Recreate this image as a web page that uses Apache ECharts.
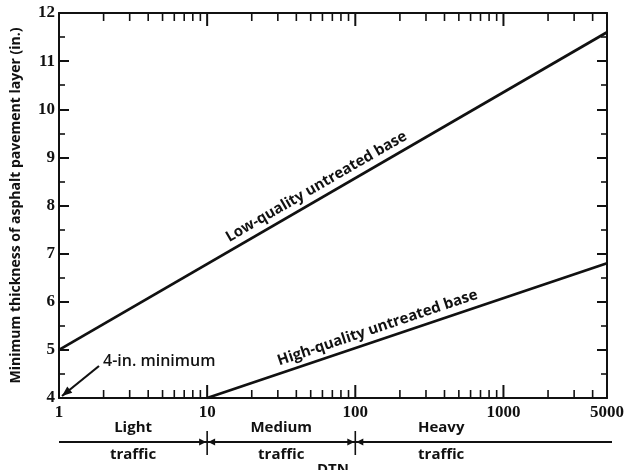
<!DOCTYPE html>
<html><head><meta charset="utf-8">
<script src="https://cdn.jsdelivr.net/npm/echarts@6/dist/echarts.min.js"></script>
<style>html,body{margin:0;padding:0;background:#fff}#c{width:634px;height:470px}</style>
</head><body><div id="c"></div>
<script>
// ---- data ----
const lowQuality = [[1, 5.0], [5000, 11.6]];
const highQuality = [[10, 4.0], [5000, 6.8]];
const xTickLabels = [1, 10, 100, 1000, 5000];
const xMajorTicks = [10, 100, 1000];
const xMinorTicks = [2,3,4,5,6,7,8,9,20,30,40,50,60,70,80,90,200,300,400,500,600,700,800,900,2000,3000,4000];
const yTickLabels = [4,5,6,7,8,9,10,11,12];
const trafficClasses = [['Light','traffic'],['Medium','traffic'],['Heavy','traffic']];
const trafficBounds = [1, 10, 100, 5000];
const lineNames = ['Low-quality untreated base', 'High-quality untreated base'];
const minimumNote = '4-in. minimum';
const yName = 'Minimum thickness of asphalt pavement layer (in.)';
const xName = 'DTN';

const INK = '#111';
const SANS = '"Open Sans","DejaVu Sans",sans-serif';
const SERIF = '"Liberation Serif","DejaVu Serif",serif';

const chart = echarts.init(document.getElementById('c'), null, {renderer:'canvas'});
const grid = {left:59, right:27, top:13, bottom:72, containLabel:false, outerBoundsMode:'none'};
const axisLine = {show:true, lineStyle:{color:INK, width:2}};

const option = {
  animation:false,
  backgroundColor:'#fff',
  grid,
  xAxis:[{
    type:'log', logBase:10, min:1, max:5000, position:'bottom',
    axisLine, splitLine:{show:false}, axisTick:{show:false},
    axisLabel:{show:true, margin:6, color:INK, fontFamily:SERIF, fontWeight:'bold', fontSize:17,
      showMaxLabel:true, showMinLabel:true,
      formatter: v => xTickLabels.some(t => Math.abs(t - v) < 1e-6 * t) ? String(Math.round(v)) : ''}
  },{
    type:'log', logBase:10, min:1, max:5000, position:'top',
    axisLine, splitLine:{show:false}, axisTick:{show:false}, axisLabel:{show:false}
  }],
  yAxis:[{
    type:'value', min:4, max:12, interval:1, position:'left',
    name: yName, nameLocation:'middle', nameGap:36, nameRotate:90,
    nameTextStyle:{color:INK, fontFamily:SANS, fontWeight:'bold', fontSize:14},
    axisLine, splitLine:{show:false},
    axisTick:{show:true, inside:true, length:10, lineStyle:{color:INK, width:2}},
    minorTick:{show:true, splitNumber:2, length:6, lineStyle:{color:INK, width:1.6}},
    axisLabel:{margin:4, color:INK, fontFamily:SERIF, fontWeight:'bold', fontSize:17,
      formatter: v => yTickLabels.includes(v) ? String(v) : ''}
  },{
    type:'value', min:4, max:12, interval:1, position:'right',
    axisLine, splitLine:{show:false},
    axisTick:{show:true, inside:true, length:10, lineStyle:{color:INK, width:2}},
    minorTick:{show:true, splitNumber:2, length:6, lineStyle:{color:INK, width:1.6}},
    axisLabel:{show:false}
  }],
  series:[
    {name:lineNames[0], type:'line', data:lowQuality, showSymbol:false, symbol:'none',
      lineStyle:{color:INK, width:2.8}},
    {name:lineNames[1], type:'line', data:highQuality, showSymbol:false, symbol:'none',
      lineStyle:{color:INK, width:2.8}}
  ]
};
chart.setOption(option);

const px = (x, y) => chart.convertToPixel({xAxisIndex:0, yAxisIndex:0}, [x, y]);
const gfx = [];

// log-axis ticks (bottom and top, pointing inward)
const yb = px(1, 4)[1], yt = px(1, 12)[1];
function xTick(v, len, w){
  const x = px(v, 4)[0];
  gfx.push({type:'line', shape:{x1:x, y1:yb, x2:x, y2:yb-len}, style:{stroke:INK, lineWidth:w}});
  gfx.push({type:'line', shape:{x1:x, y1:yt, x2:x, y2:yt+len}, style:{stroke:INK, lineWidth:w}});
}
xMajorTicks.forEach(v => xTick(v, 13, 2));
xMinorTicks.forEach(v => xTick(v, 8, 1.6));

function lineLabel(series, xAt, offset, text){
  const p0 = px(series[0][0], series[0][1]);
  const p1 = px(series[series.length-1][0], series[series.length-1][1]);
  const ang = Math.atan2(p0[1]-p1[1], p1[0]-p0[0]);
  const l0 = Math.log10(series[0][0]), l1 = Math.log10(series[series.length-1][0]);
  const t = (Math.log10(xAt) - l0) / (l1 - l0);
  const y = series[0][1] + t * (series[series.length-1][1] - series[0][1]);
  const p = px(xAt, y);
  return {type:'text', x: p[0] - offset*Math.sin(ang), y: p[1] - offset*Math.cos(ang), rotation: ang,
    style:{text, font:'bold 15px ' + SANS, fill:INK, align:'center', verticalAlign:'middle'}};
}
gfx.push(lineLabel(lowQuality, 60, 12, lineNames[0]));
gfx.push(lineLabel(highQuality, 150, 12, lineNames[1]));

// 4-in. minimum note with arrow to (1,4)
const o = px(1, 4);
const aStart = [o[0] + 40, o[1] - 32];
const aEnd = [o[0] + 3, o[1] - 2];
gfx.push({type:'line', shape:{x1:aStart[0], y1:aStart[1], x2:aEnd[0], y2:aEnd[1]}, style:{stroke:INK, lineWidth:2.2}});
(function(){
  const ang = Math.atan2(aEnd[1]-aStart[1], aEnd[0]-aStart[0]);
  const L = 10, W = 4;
  const bx = aEnd[0] - L*Math.cos(ang), by = aEnd[1] - L*Math.sin(ang);
  gfx.push({type:'polygon', shape:{points:[aEnd,
    [bx + W*Math.sin(ang), by - W*Math.cos(ang)], [bx - W*Math.sin(ang), by + W*Math.cos(ang)]]}, style:{fill:INK}});
})();
gfx.push({type:'text', x:aStart[0] + 4, y:aStart[1] - 5,
  style:{text:minimumNote, font:'600 16px ' + SANS, fill:INK, align:'left', verticalAlign:'middle'}});

// traffic classification bar
const barY = 442;
const xL = px(trafficBounds[0], 4)[0];
const xR = px(trafficBounds[trafficBounds.length-1], 4)[0] + 5;
gfx.push({type:'line', shape:{x1:xL, y1:barY, x2:xR, y2:barY}, style:{stroke:INK, lineWidth:1.8}});
for (let i = 1; i < trafficBounds.length - 1; i++) {
  const bx = px(trafficBounds[i], 4)[0];
  gfx.push({type:'line', shape:{x1:bx, y1:barY-11, x2:bx, y2:barY+13}, style:{stroke:INK, lineWidth:1.6}});
  gfx.push({type:'polygon', shape:{points:[[bx-1, barY], [bx-8, barY-3.5], [bx-8, barY+3.5]]}, style:{fill:INK}});
  gfx.push({type:'polygon', shape:{points:[[bx+1, barY], [bx+8, barY-3.5], [bx+8, barY+3.5]]}, style:{fill:INK}});
}
const labelX = [Math.sqrt(trafficBounds[0]*trafficBounds[1]), Math.sqrt(trafficBounds[1]*trafficBounds[2]), 380];
trafficClasses.forEach((c, i) => {
  const cx = px(labelX[i], 4)[0];
  gfx.push({type:'text', x:cx, y:barY-14, style:{text:c[0], font:'bold 15px ' + SANS, fill:INK, align:'center', verticalAlign:'middle'}});
  gfx.push({type:'text', x:cx, y:barY+13, style:{text:c[1], font:'bold 15px ' + SANS, fill:INK, align:'center', verticalAlign:'middle'}});
});
gfx.push({type:'text', x:333, y:462, style:{text:xName, font:'bold 15px ' + SANS, fill:INK, align:'center', verticalAlign:'top'}});

chart.setOption({graphic:{elements:gfx}});
</script>
</body></html>
